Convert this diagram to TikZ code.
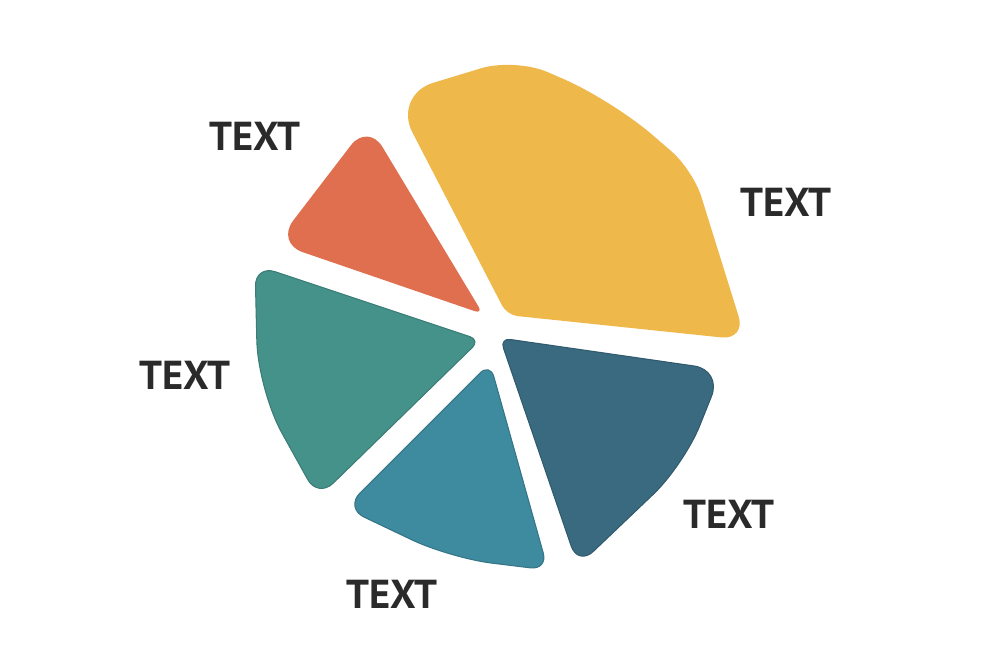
\documentclass[tikz,border=0pt]{standalone}
\usepackage{fontspec}
\newfontfamily\labelfont{PT Sans}
\definecolor{segorange}{HTML}{DF6F4E}
\definecolor{segyellow}{HTML}{EEB84A}
\definecolor{segnavy}{HTML}{3A6A80}
\definecolor{segblue}{HTML}{3E8A9F}
\definecolor{segteal}{HTML}{45928A}
\definecolor{textgray}{HTML}{2A2A2A}

\begin{document}
\begin{tikzpicture}[x=0.01cm,y=-0.01cm,
    seglabel/.style={font=\labelfont\bfseries\fontsize{11.5}{14}\selectfont, text=textgray}]

    \useasboundingbox (0,0) rectangle (1000,667);

    % orange
    \fill[segorange, rounded corners=8pt] (368,123) -- (276,243) [rounded corners=2.5pt] -- (483,314) [rounded corners=8pt] -- cycle;

    % yellow
    \fill[segyellow, rounded corners=12pt] (393,95) [rounded corners=10pt] -- (515,58) [rounded corners=15pt] -- (612,100) [rounded corners=8pt] -- (693,170) [rounded corners=7pt] -- (746,340) [rounded corners=3pt] -- (507,315) [rounded corners=12pt] -- cycle;

    % navy
    \fill[segnavy, draw=segnavy!85!black, line width=0.3pt, rounded corners=3pt] (500,338) [rounded corners=8pt] -- (722,370) [rounded corners=12pt] -- (684,465) [rounded corners=6pt] -- (578,566) [rounded corners=3pt] -- cycle;

    % blue
    \fill[segblue, draw=segblue!85!black, line width=0.3pt, rounded corners=4pt] (490,363) [rounded corners=5pt] -- (548,570) [rounded corners=12pt] -- (450,558) [rounded corners=6pt] -- (345,508) [rounded corners=4pt] -- cycle;

    % teal
    \fill[segteal, draw=segteal!85!black, line width=0.3pt, rounded corners=6pt] (255,265) [rounded corners=3pt] -- (480,340) [rounded corners=6pt] -- (318,498) [rounded corners=14pt] -- (258,390) [rounded corners=6pt] -- cycle;

    % labels
    \node[seglabel] (torange) at (255,136) {TEXT};
    \node[seglabel] (tyellow) at (786,202) {TEXT};
    \node[seglabel] (tteal) at (185,375) {TEXT};
    \node[seglabel] (tnavy) at (729,514) {TEXT};
    \node[seglabel] (tblue) at (392,594) {TEXT};

\end{tikzpicture}
\end{document}
